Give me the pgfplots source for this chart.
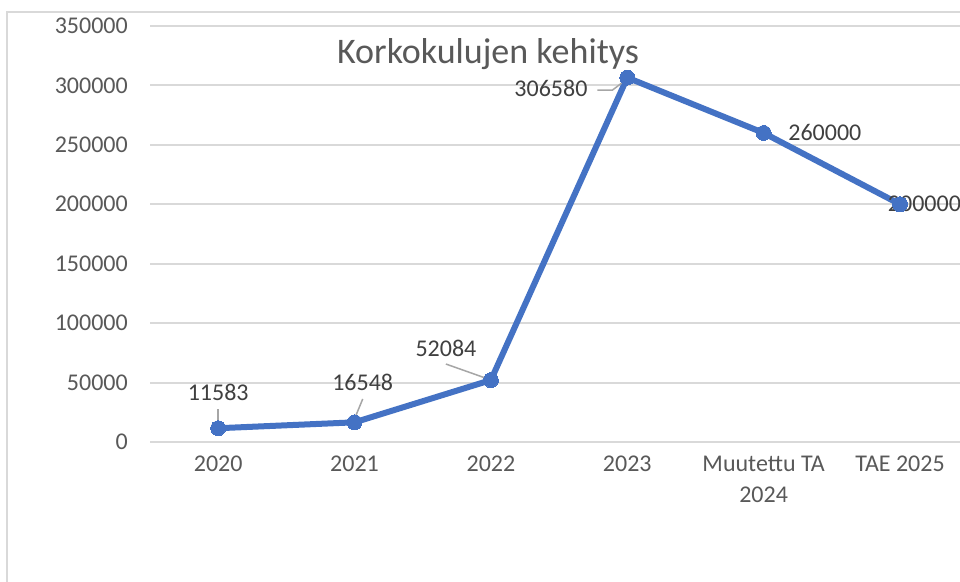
\documentclass[border=0pt]{standalone}
\usepackage{fontspec}
\setmainfont{Carlito}
\usepackage{pgfplots}
\pgfplotsset{compat=1.18}
\definecolor{linecol}{HTML}{4472C4}
\definecolor{gridcol}{HTML}{D9D9D9}
\definecolor{txtcol}{HTML}{595959}
\definecolor{lblcol}{HTML}{404040}
\definecolor{leadcol}{HTML}{A6A6A6}

\begin{document}
\begin{tikzpicture}[x=1pt,y=1pt]
  \clip (0,0) rectangle (960,581);
  \fill[white] (0,0) rectangle (960,581);
  % chart area border (cropped)
  \draw[gridcol, line width=2pt] (7,-10) -- (7,569) -- (980,569);
  \begin{axis}[
    at={(150pt,139pt)}, anchor=south west,
    scale only axis, width=810pt, height=416pt,
    xmin=-0.5, xmax=5.44, ymin=0, ymax=350000,
    axis line style={draw=none},
    ymajorgrids, grid style={gridcol, line width=2pt},
    ytick={0,50000,...,350000},
    scaled y ticks=false,
    yticklabel style={/pgf/number format/fixed, /pgf/number format/1000 sep={},
      anchor=east, inner sep=0pt, xshift=-22pt},
    xtick={0,...,5},
    xticklabels={2020,2021,2022,2023,{Muutettu TA\\2024},TAE 2025},
    xticklabel style={align=center, anchor=north, inner sep=0pt, yshift=-14pt},
    major tick length=0pt,
    tick label style={font=\fontsize{24}{31}\selectfont, text=txtcol},
    /pgf/number format/assume math mode=true,
    clip=false,
  ]
    \addplot[linecol, line width=6pt, line join=round, mark=*, mark size=7.5pt,
      mark options={fill=linecol, draw=linecol, line width=0pt}]
      coordinates {(0,11583) (1,16548) (2,52084) (3,306580) (4,260000) (5,200000)};

    % leader lines
    \draw[leadcol, line width=1.5pt] (axis cs:0,27500) -- (axis cs:0,13500);
    \draw[leadcol, line width=1.5pt] (axis cs:1.06,36200) -- (axis cs:1.0,19500);
    \draw[leadcol, line width=1.5pt] (axis cs:1.67,65600) -- (axis cs:1.98,53000);
    \draw[leadcol, line width=1.5pt] (axis cs:2.78,296000) -- (axis cs:2.89,296000) -- (axis cs:3.0,305500);

    % data labels
    \begin{scope}[every node/.style={font=\fontsize{24}{28}\selectfont, text=lblcol, inner sep=0pt}]
      \node[anchor=center] at (axis cs:0,42000) {11583};
      \node[anchor=center] at (axis cs:1.06,50500) {16548};
      \node[anchor=center] at (axis cs:1.67,79000) {52084};
      \node[anchor=center] at (axis cs:2.44,297800) {306580};
      \node[anchor=west] at (axis cs:4.18,260000) {260000};
      \node[anchor=west] at (axis cs:4.91,200000) {200000};
    \end{scope}
  \end{axis}
  \node[font=\fontsize{36}{40}\selectfont, text=txtcol, anchor=base] at (488,517) {Korkokulujen kehitys};
\end{tikzpicture}
\end{document}
